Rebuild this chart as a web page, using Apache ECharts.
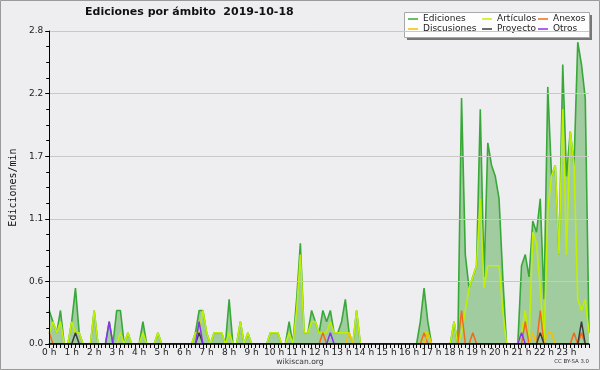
<!DOCTYPE html>
<html><head><meta charset="utf-8">
<script src="https://cdn.jsdelivr.net/npm/echarts@6/dist/echarts.min.js"></script>
<style>html,body{margin:0;padding:0;background:#eeeef0}#c{width:600px;height:370px}</style>
</head><body><div id="c"></div>
<script>
// 10-minute bins of 2019-10-18 (hour of day, 0 .. 24)
const binsPerHour = 6;
const hourLabels = ["0 h","1 h","2 h","3 h","4 h","5 h","6 h","7 h","8 h","9 h","10 h","11 h",
  "12 h","13 h","14 h","15 h","16 h","17 h","18 h","19 h","20 h","21 h","22 h","23 h"];
const yTicks = [0, 0.56, 1.12, 1.68, 2.24, 2.8];

// edits per minute, one row per hour (6 bins of 10 minutes), last value = 24:00
const ediciones = [
 0.3,0.2,0.1,0.3,0,0,
 0.2,0.5,0.1,0,0,0,
 0.3,0,0,0,0.2,0,
 0.3,0.3,0,0.1,0,0,
 0,0.2,0,0,0,0.1,
 0,0,0,0,0,0,
 0,0,0,0.1,0.3,0.3,
 0.1,0,0.1,0.1,0.1,0,
 0.4,0,0,0.2,0,0.1,
 0,0,0,0,0,0.1,
 0.1,0.1,0,0,0.2,0,
 0.4,0.9,0.1,0.1,0.3,0.2,
 0.1,0.3,0.2,0.3,0.1,0.1,
 0.2,0.4,0.1,0,0.3,0,
 0,0,0,0,0,0,
 0,0,0,0,0,0,
 0,0,0,0.2,0.5,0.2,
 0,0,0,0,0,0,
 0.2,0,2.2,0.8,0.5,0.6,
 0.7,2.1,0.6,1.8,1.6,1.5,
 1.3,0.6,0,0,0,0,
 0.7,0.8,0.6,1.1,1.0,1.3,
 0.4,2.3,1.5,1.6,0.8,2.5,
 1.5,1.9,1.6,2.7,2.5,2.2,
 0.1];
const articulos = [
 0.1,0.2,0.1,0.2,0,0,
 0.2,0.1,0.1,0,0,0,
 0.3,0,0,0,0,0,
 0,0.1,0,0.1,0,0,
 0,0.1,0,0,0,0.1,
 0,0,0,0,0,0,
 0,0,0,0.1,0.1,0.3,
 0.1,0,0.1,0.1,0.1,0,
 0.1,0,0,0.2,0,0.1,
 0,0,0,0,0,0.1,
 0.1,0.1,0,0,0.1,0,
 0.3,0.8,0.1,0.1,0.2,0.2,
 0.1,0.1,0.1,0.2,0.1,0.1,
 0.1,0.1,0.1,0,0.3,0,
 0,0,0,0,0,0,
 0,0,0,0,0,0,
 0,0,0,0,0.1,0.1,
 0,0,0,0,0,0,
 0.2,0,0.1,0.3,0.5,0.6,
 0.7,1.3,0.5,0.7,0.7,0.7,
 0.7,0.3,0,0,0,0,
 0.1,0.3,0,1.0,0.9,0.5,
 0,1.2,1.5,1.6,0.8,2.1,
 0.8,1.9,1.6,0.4,0.3,0.4,
 0.1];
const anexos = [
 0.1,0,0,0,0,0,
 0,0,0,0,0,0,
 0,0,0,0,0,0,
 0,0,0,0,0,0,
 0,0,0,0,0,0,
 0,0,0,0,0,0,
 0,0,0,0,0,0,
 0,0,0,0,0,0,
 0,0,0,0,0,0,
 0,0,0,0,0,0,
 0,0,0,0,0,0,
 0,0,0,0,0,0,
 0,0.1,0,0,0,0,
 0,0,0,0,0,0,
 0,0,0,0,0,0,
 0,0,0,0,0,0,
 0,0,0,0,0.1,0,
 0,0,0,0,0,0,
 0,0,0.3,0,0,0.1,
 0,0,0,0,0,0,
 0,0,0,0,0,0,
 0,0.2,0,0,0,0.3,
 0,0,0,0,0,0,
 0,0,0.1,0,0.1,0,
 0];
const discusiones = [
 0,0,0,0,0,0,
 0,0,0,0,0,0,
 0,0,0,0,0,0,
 0,0,0,0,0,0,
 0,0,0,0,0,0,
 0,0,0,0,0,0,
 0,0,0,0,0,0,
 0,0,0,0,0,0,
 0,0,0,0,0,0,
 0,0,0,0,0,0,
 0,0,0,0,0,0,
 0,0,0,0,0,0,
 0,0,0,0,0,0,
 0,0,0.1,0,0,0,
 0,0,0,0,0,0,
 0,0,0,0,0,0,
 0,0,0,0,0,0.1,
 0,0,0,0,0,0,
 0,0,0,0,0,0,
 0,0,0,0,0,0,
 0,0,0,0,0,0,
 0,0,0,0.1,0,0,
 0,0.1,0.1,0,0,0,
 0,0,0,0,0,0,
 0];
const proyecto = [
 0,0,0,0,0,0,
 0,0.1,0,0,0,0,
 0,0,0,0,0,0,
 0,0,0,0,0,0,
 0,0,0,0,0,0,
 0,0,0,0,0,0,
 0,0,0,0,0.1,0,
 0,0,0,0,0,0,
 0,0,0,0,0,0,
 0,0,0,0,0,0,
 0,0,0,0,0,0,
 0,0,0,0,0,0,
 0,0,0,0,0,0,
 0,0,0,0,0,0,
 0,0,0,0,0,0,
 0,0,0,0,0,0,
 0,0,0,0,0,0,
 0,0,0,0,0,0,
 0,0,0,0,0,0,
 0,0,0,0,0,0,
 0,0,0,0,0,0,
 0,0,0,0,0,0.1,
 0,0,0,0,0,0,
 0,0,0,0,0.2,0,
 0];
const otros = [
 0,0,0,0,0,0,
 0,0,0,0,0,0,
 0,0,0,0,0.2,0,
 0,0,0,0,0,0,
 0,0,0,0,0,0,
 0,0,0,0,0,0,
 0,0,0,0,0.2,0,
 0,0,0,0,0,0,
 0,0,0,0,0,0,
 0,0,0,0,0,0,
 0,0,0,0,0,0,
 0,0,0,0,0,0,
 0,0,0,0.1,0,0,
 0,0,0,0,0,0,
 0,0,0,0,0,0,
 0,0,0,0,0,0,
 0,0,0,0,0,0,
 0,0,0,0,0,0,
 0,0,0,0,0,0,
 0,0,0,0,0,0,
 0,0,0,0,0,0,
 0.1,0,0,0,0,0,
 0,0,0,0,0,0,
 0,0,0,0,0,0,
 0];

const pairs = arr => arr.map((v, i) => [i / binsPerHour, v]);
const F = 'DejaVu Sans';

function line(name, data, color, width, extra) {
  return Object.assign({
    name, type: 'line', data: pairs(data), symbol: 'none', showSymbol: false,
    lineStyle: { color, width }, itemStyle: { color }, emphasis: { disabled: true },
    animation: false, clip: true
  }, extra || {});
}

const legendCommon = {
  orient: 'vertical', top: 14, padding: 0, itemGap: 0, itemWidth: 10, itemHeight: 1.5,
  icon: 'rect', selectedMode: false, z: 6,
  textStyle: { fontFamily: F, fontSize: 9, color: '#222', lineHeight: 10 }
};

const chart = echarts.init(document.getElementById('c'), null, { renderer: 'canvas' });
chart.setOption({
  animation: false,
  backgroundColor: '#eeeef0',
  title: {
    text: 'Ediciones por ámbito  2019-10-18', left: 85, top: 7, padding: 0,
    textStyle: { fontFamily: F, fontWeight: 'bold', fontSize: 11, color: '#111' }
  },
  legend: [
    Object.assign({ left: 408, data: ['Ediciones', 'Discusiones'] }, legendCommon),
    Object.assign({ left: 482, data: ['Artículos', 'Proyecto'] }, legendCommon),
    Object.assign({ left: 538, data: ['Anexos', 'Otros'] }, legendCommon)
  ],
  grid: { left: 46, right: 11, top: 31, bottom: 26, containLabel: false },
  xAxis: {
    type: 'value', min: 0, max: 24, interval: 1, z: 10,
    axisLine: { show: true, onZero: false, lineStyle: { color: '#000', width: 1.5 } },
    axisTick: { show: true, length: 4, lineStyle: { color: '#000' } },
    minorTick: { show: true, splitNumber: binsPerHour, length: 4, lineStyle: { color: '#000' } },
    splitLine: { show: false },
    axisLabel: {
      margin: 4, fontFamily: F, fontSize: 9, color: '#222',
      formatter: v => hourLabels[v] || ''
    }
  },
  yAxis: {
    type: 'value', min: 0, max: 2.8, interval: 0.56, z: 10,
    name: 'Ediciones/min', nameLocation: 'middle', nameGap: 31,
    nameTextStyle: { fontFamily: 'DejaVu Sans Mono', fontSize: 10, color: '#111' },
    axisLine: { show: true, lineStyle: { color: '#000', width: 1 } },
    axisTick: { show: true, length: 4, lineStyle: { color: '#000' } },
    minorTick: { show: true, splitNumber: 4, length: 3, lineStyle: { color: '#000' } },
    splitLine: { show: true, lineStyle: { color: '#c8c8c8', width: 1 } },
    axisLabel: {
      margin: 6, fontFamily: F, fontSize: 9, color: '#222',
      formatter: v => yTicks.includes(+v.toFixed(2)) ? v.toFixed(1) : ''
    }
  },
  graphic: [
    { type: 'rect', z: 4, shape: { x: 407, y: 15, width: 185, height: 25 }, style: { fill: '#777' } },
    { type: 'rect', z: 5, shape: { x: 404.5, y: 12.5, width: 185, height: 25 }, style: { fill: '#fdfdfd', stroke: '#a8a8a8', lineWidth: 1 } },
    { type: 'text', z: 5, x: 300, y: 362, style: { text: 'wikiscan.org', fontFamily: F, fontSize: 7.6, fill: '#333', textAlign: 'center', textVerticalAlign: 'middle' } },
    { type: 'text', z: 5, x: 589, y: 362, style: { text: 'CC BY-SA 3.0', fontFamily: F, fontSize: 5.4, fill: '#333', textAlign: 'right', textVerticalAlign: 'middle' } },
    { type: 'rect', z: 20, shape: { x: 0.5, y: 0.5, width: 599, height: 369 }, style: { fill: null, stroke: '#9a9a9a', lineWidth: 1 } }
  ],
  series: [
    line('Ediciones', ediciones, '#38a838', 1.6, { areaStyle: { color: '#a0cca0', opacity: 1 }, z: 2 }),
    line('Artículos', articulos, '#c0f000', 1.6, { z: 3 }),
    line('Anexos', anexos, '#f26a1b', 1.5, { z: 4 }),
    line('Discusiones', discusiones, '#f2c200', 1.5, { z: 4 }),
    line('Proyecto', proyecto, '#3a3a3a', 1.5, { z: 4 }),
    line('Otros', otros, '#8a33ee', 1.5, { z: 4 })
  ]
});
</script></body></html>
